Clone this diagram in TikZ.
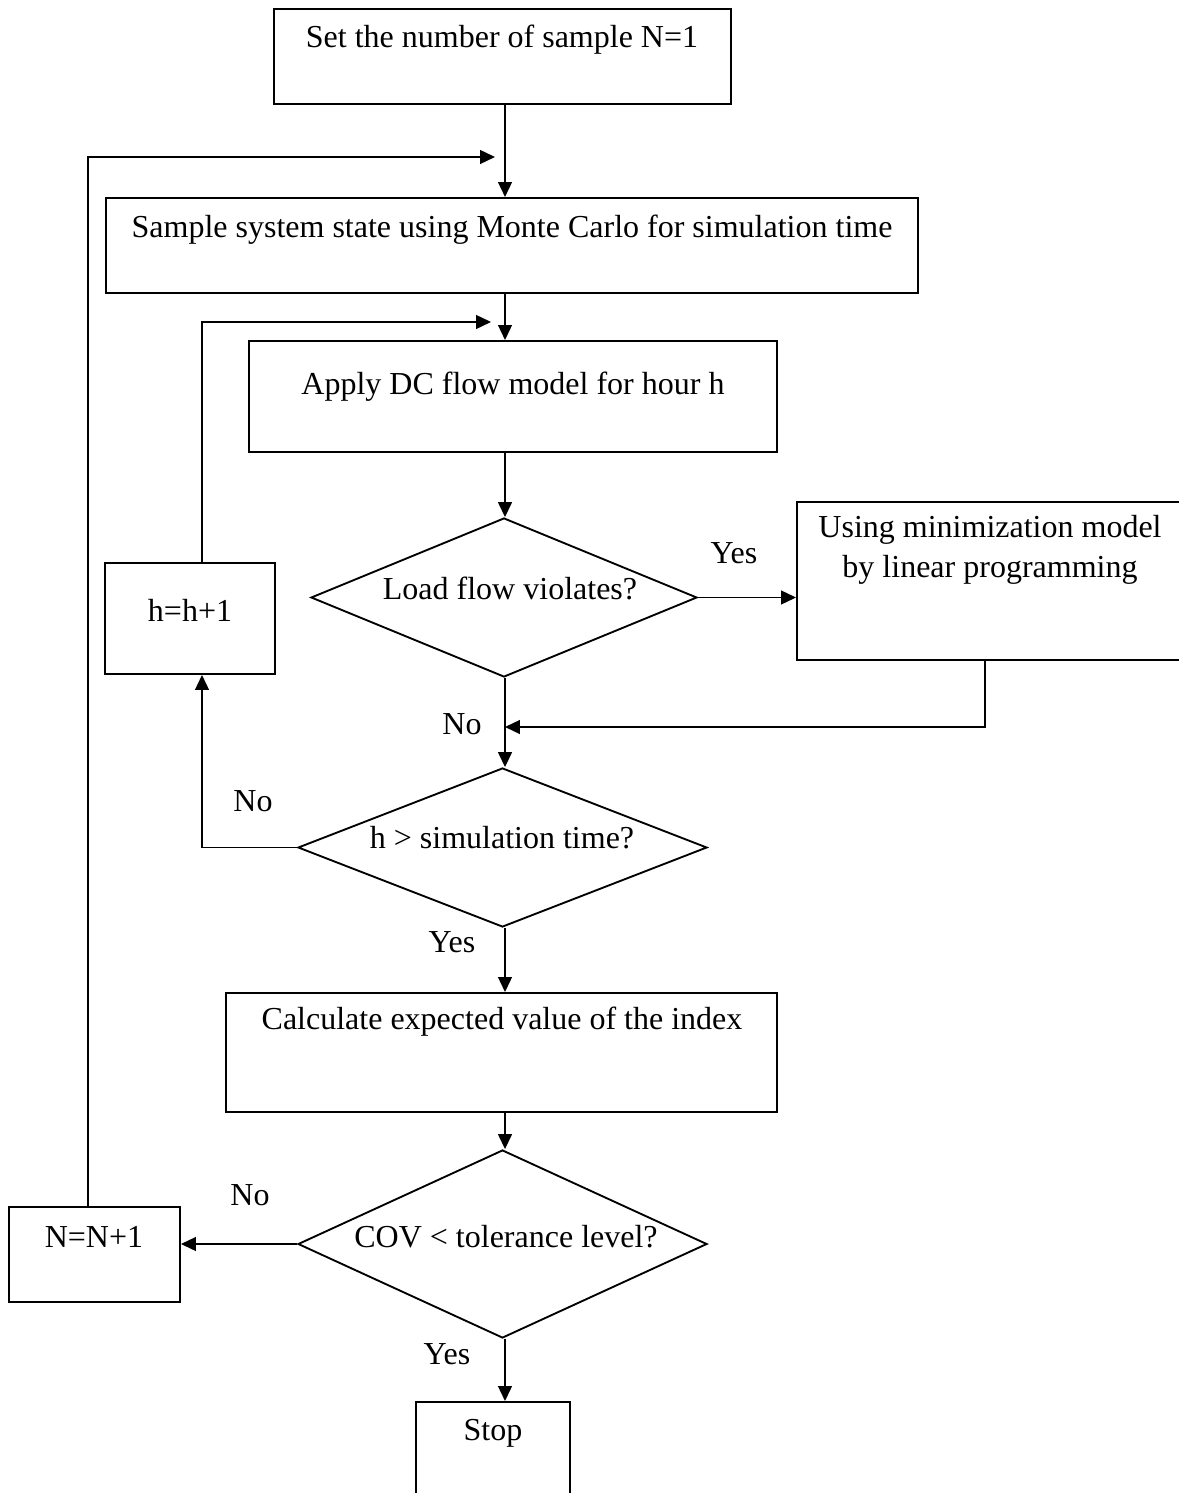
\documentclass[tikz,border=0pt]{standalone}
\usepackage{fontspec}
\setmainfont{Liberation Serif}
\usetikzlibrary{shapes.geometric,arrows.meta,calc}
\begin{document}
\begin{tikzpicture}[x=0.375pt,y=-0.375pt,
  font=\fontsize{12}{15}\selectfont,
  box/.style={draw,line width=0.75pt,rectangle,inner sep=0pt},
  dec/.style={draw,line width=0.7pt,diamond,inner sep=0pt},
  txt/.style={inner sep=0pt,align=center},
  conn/.style={line width=0.6pt},
  arr/.style={conn,-{Triangle[length=5.6pt,width=5.2pt]}}]
\useasboundingbox (0,0) rectangle (1179,1493);
% boxes
\node[box,minimum width=457*0.375pt,minimum height=95*0.375pt] (b1) at (502.5,56.5) {};
\node[box,minimum width=812*0.375pt,minimum height=95*0.375pt] (b2) at (512,245.5) {};
\node[box,minimum width=528*0.375pt,minimum height=111*0.375pt] (b3) at (513,396.5) {};
\node[box,minimum width=386*0.375pt,minimum height=158*0.375pt] (b4) at (990,581) {};
\node[box,minimum width=170*0.375pt,minimum height=111*0.375pt] (hb) at (190,618.5) {};
\node[box,minimum width=551*0.375pt,minimum height=119*0.375pt] (b5) at (501.5,1052.5) {};
\node[box,minimum width=171*0.375pt,minimum height=95*0.375pt] (nb) at (94.5,1254.5) {};
\node[box,minimum width=154*0.375pt,minimum height=98*0.375pt] (st) at (493,1451) {};
% decisions
\node[dec,minimum width=386*0.375pt,minimum height=159*0.375pt] (d1) at (504,597.5) {};
\node[dec,minimum width=409*0.375pt,minimum height=159*0.375pt] (d2) at (502.5,847.5) {};
\node[dec,minimum width=409*0.375pt,minimum height=188*0.375pt] (d3) at (502.5,1244) {};
% texts
\node[txt] (t1) at (502,40) {Set the number of sample N=1};
\node[txt] (t2) at (512,230) {Sample system state using Monte Carlo for simulation time};
\node[txt] (t3) at (513,387) {Apply DC flow model for hour h};
\node[txt] (t4) at (990,550) {Using minimization model\\by linear programming};
\node[txt] (t5) at (510,588) {Load flow violates?};
\node[txt] (th) at (190,610) {h=h+1};
\node[txt] (t6) at (502,838) {h > simulation time?};
\node[txt] (t7) at (502,1022) {Calculate expected value of the index};
\node[txt] (t8) at (506,1237) {COV < tolerance level?};
\node[txt] (tn) at (94,1237) {N=N+1};
\node[txt] (ts) at (493,1433) {Stop};
% labels
\node[txt] (y1) at (734,553) {Yes};
\node[txt] (n1) at (462,724) {No};
\node[txt] (n2) at (253,801) {No};
\node[txt] (y2) at (452,942) {Yes};
\node[txt] (n3) at (250,1195) {No};
\node[txt] (y3) at (447,1354) {Yes};
% spine coordinates
\coordinate (sp) at (505,0);
\coordinate (j1) at (495,157);
\coordinate (j2) at (491,322);
\coordinate (j3) at (505,727);
% main flow
\draw[arr] (sp |- b1.south) -- (sp |- b2.north);
\draw[arr] (sp |- b2.south) -- (sp |- b3.north);
\draw[arr] (sp |- b3.south) -- (sp |- d1.north);
\draw[arr] (sp |- d1.south) -- (sp |- d2.north);
\draw[arr] (sp |- d2.south) -- (sp |- b5.north);
\draw[arr] (sp |- b5.south) -- (sp |- d3.north);
\draw[arr] (sp |- d3.south) -- (sp |- st.north);
% branches
\draw[arr] (d1.east) -- (d1.east -| b4.west);
\draw[arr] ([xshift=-5*0.375pt]b4.south) |- (j3);
\draw[arr] (d2.west) -| ([xshift=12*0.375pt]hb.south);
\draw[arr] ([xshift=12*0.375pt]hb.north) |- (j2);
\draw[arr] (d3.west) -- (d3.west -| nb.east);
\draw[arr] ([xshift=-6.5*0.375pt]nb.north) |- (j1);
\end{tikzpicture}
\end{document}
